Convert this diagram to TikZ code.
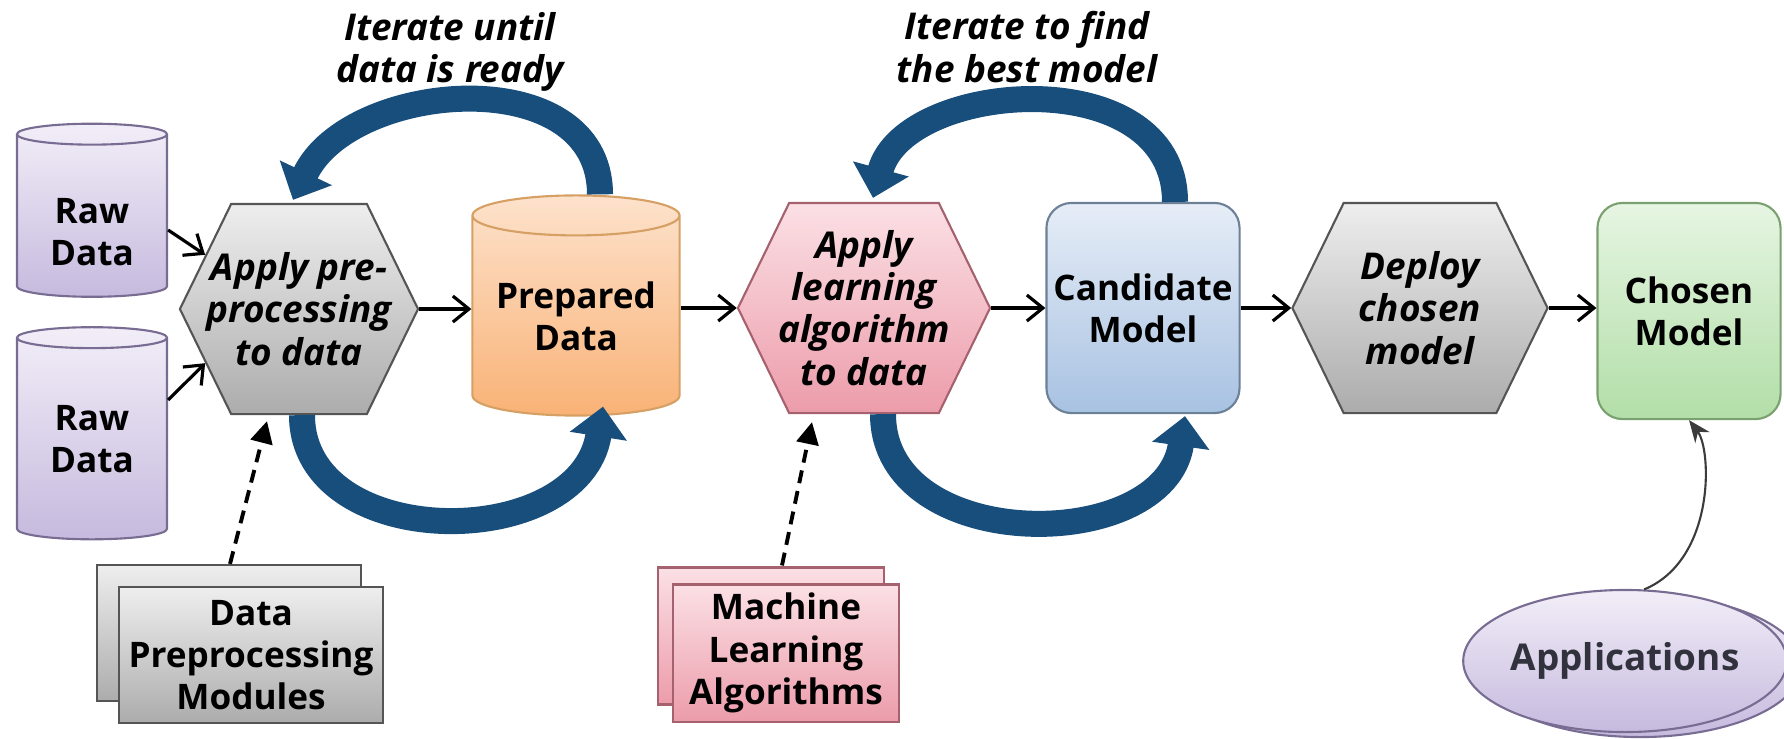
\documentclass[tikz,border=0pt]{standalone}
\usepackage{fontspec}
\setmainfont{Open Sans}
\usetikzlibrary{calc,shapes.geometric,shapes.symbols,shadows,arrows.meta}

\definecolor{loopblue}{RGB}{24,78,124}
\definecolor{purtop}{RGB}{242,238,248}
\definecolor{purbot}{RGB}{198,186,222}
\definecolor{purline}{RGB}{120,108,146}
\definecolor{graytop}{RGB}{238,238,238}
\definecolor{graybot}{RGB}{172,172,172}
\definecolor{grayline}{RGB}{85,85,85}
\definecolor{orgtop}{RGB}{253,226,204}
\definecolor{orgbot}{RGB}{249,178,118}
\definecolor{orgline}{RGB}{214,160,100}
\definecolor{pnktop}{RGB}{251,224,229}
\definecolor{pnkbot}{RGB}{236,156,170}
\definecolor{pnkline}{RGB}{165,98,110}
\definecolor{blutop}{RGB}{230,237,247}
\definecolor{blubot}{RGB}{168,194,226}
\definecolor{bluline}{RGB}{108,128,150}
\definecolor{grntop}{RGB}{230,245,226}
\definecolor{grnbot}{RGB}{178,222,168}
\definecolor{grnline}{RGB}{122,160,112}

\tikzset{
	lbl/.style={font=\fontsize{10}{12}\selectfont\bfseries, align=center, text=black, inner sep=0pt},
	ilbl/.style={lbl, font=\fontsize{10.5}{12}\selectfont\bfseries\itshape},
	drum/.style={lbl, shape=cylinder, shape border rotate=90, aspect=0.25, line width=0.6pt},
	hexa/.style={ilbl, shape=signal, signal from=nowhere, signal to=west and east, signal pointer angle=128, inner xsep=-0.5cm, line width=0.6pt},
	card/.style={lbl, rectangle, rounded corners=2.5mm, line width=0.6pt},
	sheet/.style={lbl, rectangle, line width=0.6pt},
	flow/.style={line width=0.9pt, -{Straight Barb[length=1.6mm,width=2.6mm]}},
	dashflow/.style={line width=1.1pt, dash pattern=on 1.3mm off 0.8mm, -{Triangle[length=2.2mm,width=2.2mm]}},
	loop/.style={loopblue, line width=2.6mm, -{Triangle[length=3mm,width=5.6mm]}},
}

\begin{document}
\begin{tikzpicture}[x=0.01cm,y=-0.01cm]
			%%%%% START %%%%%
			\def\hexh{2.1cm}
			\def\cardh{2.1cm}
			\useasboundingbox (0,0) rectangle (1784,738);

			% stores and steps
			\node[drum, draw=purline, top color=purtop, bottom color=purbot, minimum width=1.5cm, minimum height=1.73cm] (raw1) at (92,216) {\rule{0pt}{5.8mm}Raw\\Data};
			\node[drum, draw=purline, top color=purtop, bottom color=purbot, minimum width=1.5cm, minimum height=2.12cm] (raw2) at (92,439) {Raw\\Data};
			\node[hexa, draw=grayline, top color=graytop, bottom color=graybot, minimum width=2.38cm, minimum height=\hexh] (hex1) at (299,309) {Apply pre-\\processing\\to data};
			\node[drum, draw=orgline, top color=orgtop, bottom color=orgbot, minimum width=2.07cm, minimum height=2.2cm] (prep) at (576,316) {Prepared\\Data};
			\node[hexa, draw=pnkline, top color=pnktop, bottom color=pnkbot, minimum width=2.52cm, minimum height=\hexh] (hex2) at (864,308) {Apply\\learning\\algorithm\\to data};
			\node[card, draw=bluline, top color=blutop, bottom color=blubot, minimum width=1.93cm, minimum height=\cardh] (cand) at (1143,308) {Candidate\\Model};
			\node[hexa, draw=grayline, top color=graytop, bottom color=graybot, minimum width=2.55cm, minimum height=\hexh] (hex3) at (1420,308) {Deploy\\chosen\\model};
			\node[card, draw=grnline, top color=grntop, bottom color=grnbot, minimum width=1.83cm, minimum height=2.16cm] (chosen) at (1689,311) {Chosen\\Model};

			% stacked boxes below
			\node[sheet, draw=grayline, top color=graytop, bottom color=graybot, minimum width=2.63cm, minimum height=1.36cm,
				copy shadow={shadow xshift=-2.2mm, shadow yshift=2.2mm, draw=grayline, top color=graytop, bottom color=graybot}] (dpm) at (251,655) {Data\\Preprocessing\\Modules};
			\node[sheet, draw=pnkline, top color=pnktop, bottom color=pnkbot, minimum width=2.26cm, minimum height=1.37cm,
				copy shadow={shadow xshift=-1.5mm, shadow yshift=1.7mm, draw=pnkline, top color=pnktop, bottom color=pnkbot}] (mla) at (786,653) {Machine\\Learning\\Algorithms};
			\node[lbl, ellipse, draw=purline, line width=0.6pt, top color=purtop, bottom color=purbot, text={rgb,255:red,50;green,50;blue,62}, minimum width=2.85cm, minimum height=1.42cm,
				copy shadow={shadow xshift=1.5mm, shadow yshift=-0.5mm, draw=purline, top color=purtop, bottom color=purbot}] (apps) at (1625,661) {\fontsize{10.5}{12}\selectfont Applications};

			% loop texts
			\node[ilbl] (lab1) at (450,52) {Iterate until\\data is ready};
			\node[ilbl] (lab2) at (1027,47) {Iterate to find\\the best model};

			% main flow
			\draw[flow] ($(raw1.east)+(0,14)$) -- (hex1.150);
			\draw[flow] ($(raw2.east)+(0,-39)$) -- (hex1.210);
			\draw[flow] (hex1.east) -- (hex1.east -| prep.west);
			\draw[flow] (prep.east |- hex2.west) -- (hex2.west);
			\draw[flow] (hex2.east) -- (cand.west);
			\draw[flow] (cand.east) -- (hex3.west);
			\draw[flow] (hex3.east) -- (hex3.east -| chosen.west);
			\draw[dashflow] ($(dpm.north)+(-21,-22)$) -- ($(hex1.south)+(-32,6)$);
			\draw[dashflow] ($(mla.north)+(-4,-18)$) -- ($(hex2.south)+(-52,8)$);
			\draw[line width=0.6pt, draw={rgb,255:red,60;green,60;blue,60}, -{Stealth[length=2.2mm,width=1.8mm]}] (apps.75) .. controls (1715,560) and (1712,450) .. (chosen.south);

			% iterate loops
			\draw[loop] ($(prep.north)+(24,0)$) .. controls (600,60) and (350,80) .. ($(hex1.north)+(-6,-3)$);
			\draw[loop] ($(hex1.south)+(3,0)$) .. controls (302,553) and (580,553) .. ($(prep.south)+(27,-10)$);
			\draw[loop] ($(cand.north)+(32,0)$) .. controls (1175,60) and (905,80) .. ($(hex2.north)+(9,-4)$);
			\draw[loop] ($(hex2.south)+(19,0)$) .. controls (883,555) and (1165,555) .. ($(cand.south)+(42,2)$);
			%%%%% END %%%%%
\end{tikzpicture}
\end{document}
